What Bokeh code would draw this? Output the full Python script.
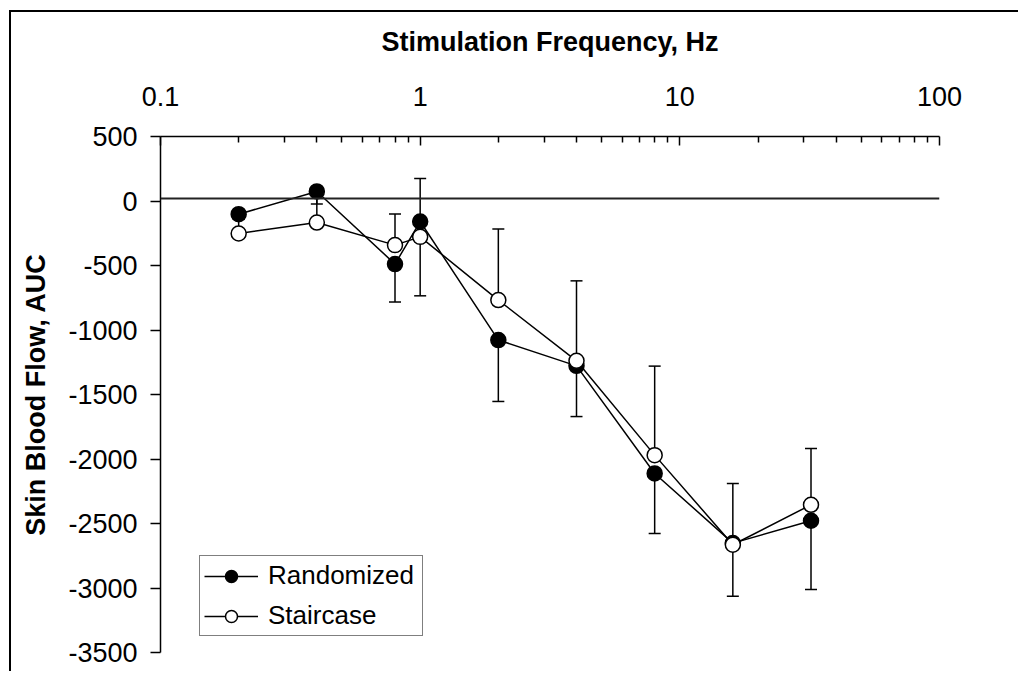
from bokeh.plotting import figure
from bokeh.models import Range1d, FixedTicker, Span, Legend, LegendItem, ColumnDataSource
from bokeh.embed import file_html
from bokeh.resources import INLINE

# ---- data ----
FREQ = [0.2, 0.4, 0.8, 1, 2, 4, 8, 16, 32]
RANDOMIZED = [-102, 74, -489, -159, -1078, -1278, -2112, -2652, -2479]
RANDOMIZED_ERR = [40, 98, 294, 576, 476, 393, 465, 411, 533]      # drawn downward
STAIRCASE = [-252, -167, -342, -278, -768, -1239, -1970, -2665, -2355]
STAIRCASE_ERR = [122, 230, 241, 452, 550, 620, 690, 475, 436]     # drawn upward
X_TICKS = [0.1, 1, 10, 100]
X_TICK_LABELS = ["0.1", "1", "10", "100"]
Y_TICKS = [500, 0, -500, -1000, -1500, -2000, -2500, -3000, -3500]
Y_TICK_LABELS = ["500", "0", "-500", "-1000", "-1500", "-2000", "-2500", "-3000", "-3500"]
ZERO_LINE = 20
SERIES_NAMES = ["Randomized", "Staircase"]
X_TITLE = "Stimulation Frequency, Hz"
Y_TITLE = "Skin Blood Flow, AUC"

FONT = "Liberation Sans"

p = figure(width=1009, height=661, x_axis_type="log", x_axis_location="above",
           x_range=Range1d(0.1, 100), y_range=Range1d(-3500, 500),
           output_backend="svg", toolbar_location=None,
           min_border_left=149, min_border_right=81, min_border_top=124, min_border_bottom=21)
p.styles = {"border-top": "2px solid #000", "border-left": "2px solid #000",
            "margin-left": "9px", "margin-top": "10px"}
p.outline_line_color = None
p.grid.visible = False
p.background_fill_color = "white"
p.border_fill_color = "white"

# x axis (top)
xa = p.xaxis[0]
xa.ticker = FixedTicker(ticks=X_TICKS,
                        minor_ticks=[k * 10.0 ** e for e in (-1, 0, 1) for k in range(2, 10)])
xa.major_label_overrides = dict(zip(X_TICKS, X_TICK_LABELS))
xa.major_tick_in = 9
xa.major_tick_out = 0
xa.minor_tick_in = 6
xa.minor_tick_out = 0
xa.axis_line_width = 1.5
xa.major_tick_line_width = 1.5
xa.minor_tick_line_width = 1.5
xa.major_label_text_font = FONT
xa.major_label_text_font_size = "27px"
xa.major_label_text_color = "black"
xa.major_label_standoff = 31
xa.axis_label = X_TITLE
xa.axis_label_text_font = FONT
xa.axis_label_text_font_size = "27px"
xa.axis_label_text_font_style = "bold"
xa.axis_label_text_color = "black"
xa.axis_label_standoff = 27

# y axis
ya = p.yaxis[0]
ya.ticker = FixedTicker(ticks=Y_TICKS)
ya.major_label_overrides = dict(zip(Y_TICKS, Y_TICK_LABELS))
ya.major_tick_in = 0
ya.major_tick_out = 10
ya.minor_tick_line_color = None
ya.axis_line_width = 1.5
ya.major_tick_line_width = 1.5
ya.major_label_text_font = FONT
ya.major_label_text_font_size = "27px"
ya.major_label_text_color = "black"
ya.major_label_standoff = 13
ya.axis_label = Y_TITLE
ya.axis_label_text_font = FONT
ya.axis_label_text_font_size = "27px"
ya.axis_label_text_font_style = "bold"
ya.axis_label_text_color = "black"
ya.axis_label_standoff = 14

# zero line
p.add_layout(Span(location=ZERO_LINE, dimension="width", line_color="#222222", line_width=2))

src_r = ColumnDataSource(dict(x=FREQ, y=RANDOMIZED,
                              lo=[v - e for v, e in zip(RANDOMIZED, RANDOMIZED_ERR)]))
src_s = ColumnDataSource(dict(x=FREQ, y=STAIRCASE,
                              hi=[v + e for v, e in zip(STAIRCASE, STAIRCASE_ERR)]))

# error bars
p.segment(x0="x", y0="y", x1="x", y1="lo", source=src_r, line_color="black", line_width=1.5)
p.scatter(x="x", y="lo", source=src_r, marker="dash", size=12, line_color="black", line_width=1.5)
p.segment(x0="x", y0="y", x1="x", y1="hi", source=src_s, line_color="black", line_width=1.5)
p.scatter(x="x", y="hi", source=src_s, marker="dash", size=12, line_color="black", line_width=1.5)

# series
lr = p.line(x="x", y="y", source=src_r, line_color="black", line_width=1.5)
mr = p.scatter(x="x", y="y", source=src_r, marker="circle", size=15,
               fill_color="black", line_color="black", line_width=1.5)
ls = p.line(x="x", y="y", source=src_s, line_color="black", line_width=1.5)
ms = p.scatter(x="x", y="y", source=src_s, marker="circle", size=15,
               fill_color="white", line_color="black", line_width=1.5)

legend = Legend(items=[LegendItem(label=SERIES_NAMES[0], renderers=[lr, mr]),
                       LegendItem(label=SERIES_NAMES[1], renderers=[ls, ms])],
                location=(39, 16), border_line_color="black", border_line_width=1.5,
                label_text_font=FONT, label_text_font_size="26px", label_text_color="black",
                glyph_width=54, glyph_height=30, label_height=30, label_width=150,
                label_standoff=10, padding=4, spacing=9, margin=0,
                background_fill_color="white", background_fill_alpha=1.0)
p.add_layout(legend)

open("out.html", "w").write(file_html(p, INLINE))
